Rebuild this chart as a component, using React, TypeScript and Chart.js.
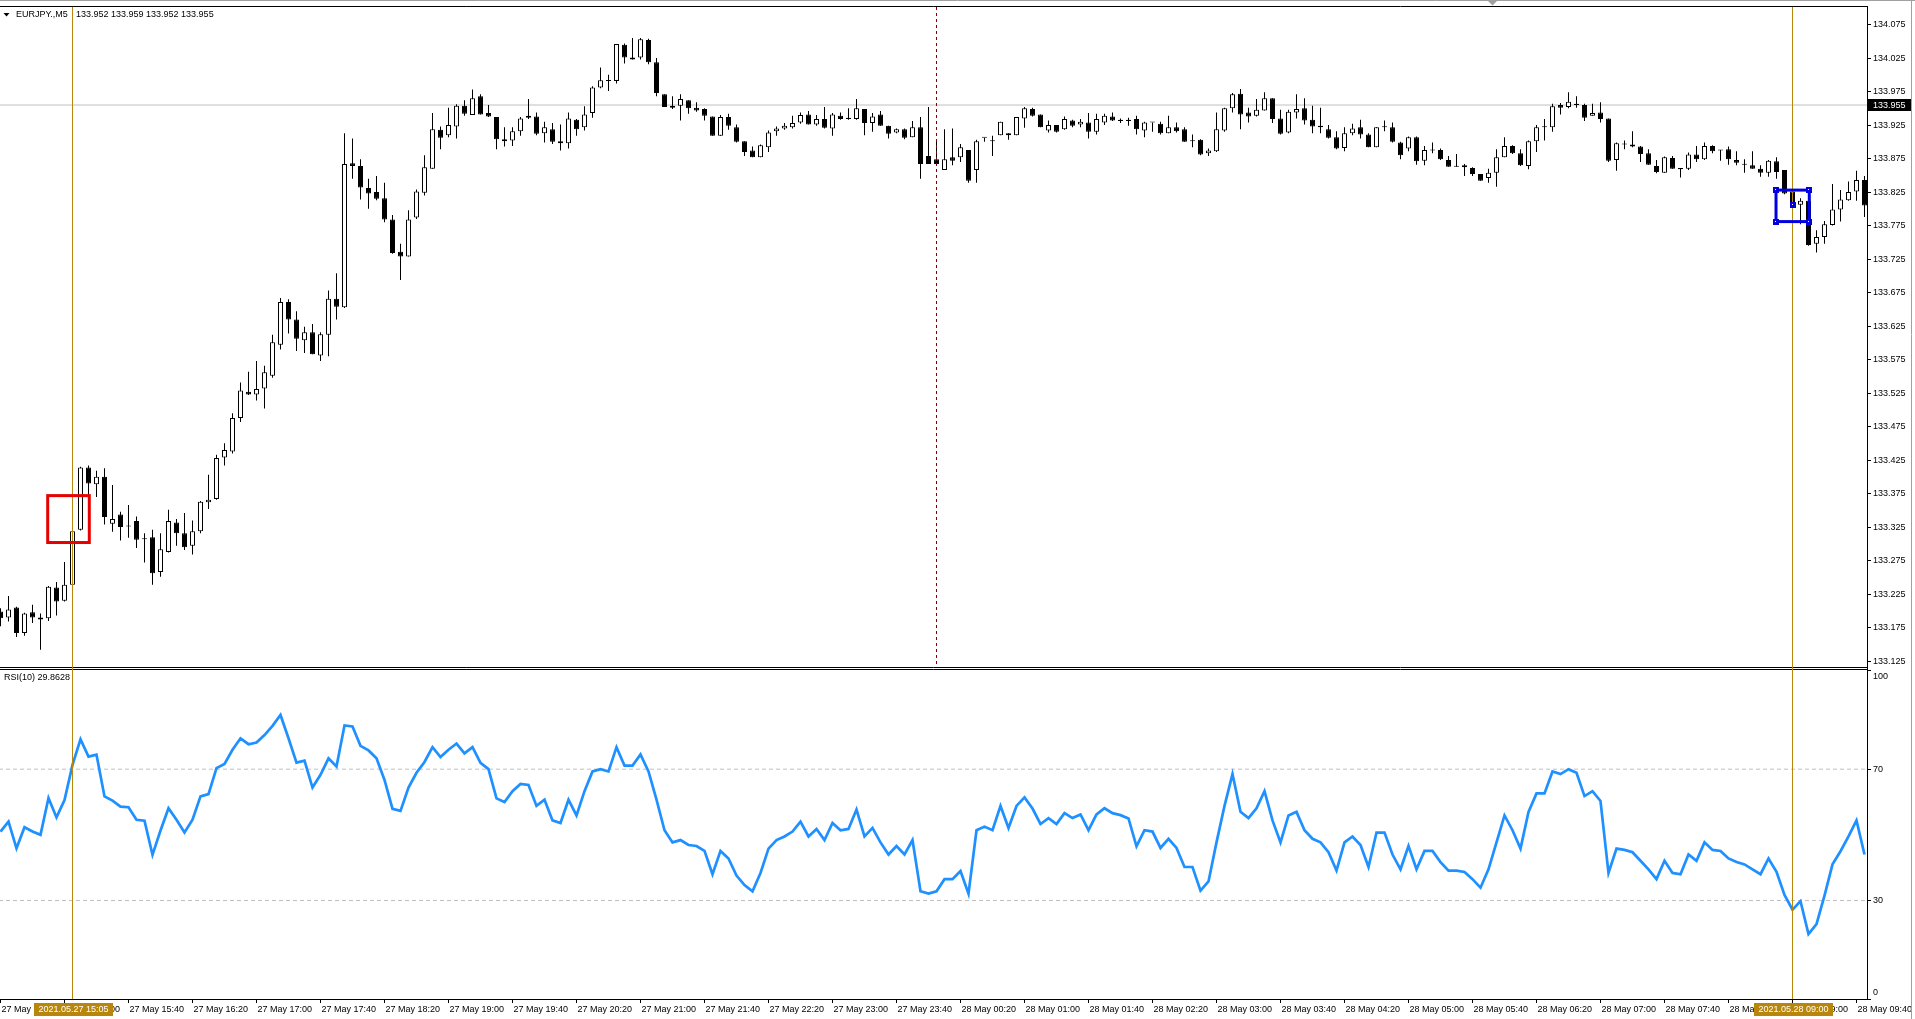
import React, { useEffect, useRef } from 'react';
import { Chart, registerables } from 'chart.js';

Chart.register(...registerables);

// ---------------- DATA (EURJPY., M5, 27 May 14:20 -> 28 May 09:45) ----------------
const OPEN = [
  133.199,133.190,133.205,133.167,133.198,133.190,133.189,133.235,133.215,133.239,
  133.321,133.414,133.389,133.400,133.330,133.344,133.327,133.334,133.308,133.310,
  133.258,133.288,133.332,133.316,133.297,133.319,133.362,133.367,133.429,133.438,
  133.488,133.527,133.523,133.532,133.551,133.597,133.661,133.635,133.604,133.616,
  133.581,133.612,133.666,133.653,133.868,133.864,133.831,133.825,133.816,133.784,
  133.736,133.729,133.787,133.824,133.860,133.918,133.910,133.923,133.954,133.940,
  133.968,133.943,133.937,133.904,133.902,133.916,133.939,133.938,133.913,133.919,
  133.901,133.898,133.933,133.922,133.943,133.981,133.991,133.991,134.045,134.023,
  134.026,134.052,134.019,133.971,133.954,133.954,133.962,133.951,133.949,133.938,
  133.909,133.937,133.922,133.901,133.887,133.877,133.892,133.916,133.920,133.922,
  133.929,133.941,133.926,133.934,133.920,133.939,133.936,133.934,133.949,133.928,
  133.941,133.924,133.914,133.919,133.907,133.922,133.879,133.874,133.858,133.877,
  133.877,133.888,133.858,133.906,133.901,133.910,133.913,133.910,133.935,133.949,
  133.941,133.917,133.925,133.919,133.932,133.926,133.929,133.915,133.929,133.938,
  133.933,133.933,133.934,133.917,133.929,133.927,133.913,133.922,133.919,133.901,
  133.903,133.883,133.886,133.917,133.950,133.972,133.944,133.939,133.947,133.965,
  133.935,133.914,133.944,133.950,133.933,133.924,133.919,133.907,133.891,133.913,
  133.922,133.911,133.892,133.922,133.922,133.899,133.890,133.907,133.872,133.888,
  133.888,133.873,133.864,133.865,133.861,133.852,133.846,133.854,133.877,133.894,
  133.883,133.864,133.901,133.922,133.922,133.955,133.952,133.957,133.955,133.939,
  133.944,133.935,133.873,133.897,133.896,133.893,133.883,133.864,133.854,133.876,
  133.861,133.860,133.881,133.874,133.894,133.888,133.889,133.873,133.867,133.865,
  133.860,133.854,133.871,133.858,133.826,133.806,133.812,133.748,133.758,133.776,
  133.799,133.813,133.826,133.843,
];

const HIGH = [
  133.204,133.222,133.206,133.197,133.209,133.196,133.237,133.243,133.273,133.320,
  133.415,133.417,133.409,133.413,133.388,133.348,133.358,133.341,133.316,133.321,
  133.316,133.351,133.337,133.346,133.335,133.364,133.403,133.433,133.450,133.495,
  133.541,133.557,133.573,133.566,133.612,133.667,133.665,133.647,133.624,133.628,
  133.616,133.678,133.704,133.913,133.905,133.874,133.845,133.849,133.839,133.791,
  133.748,133.798,133.829,133.880,133.943,133.923,133.951,133.956,133.962,133.978,
  133.971,133.955,133.937,133.922,133.922,133.937,133.964,133.944,133.930,133.928,
  133.926,133.944,133.934,133.953,133.983,134.011,134.000,134.046,134.047,134.055,
  134.055,134.054,134.025,133.971,133.968,133.971,133.962,133.959,133.950,133.938,
  133.940,133.942,133.926,133.901,133.893,133.896,133.917,133.923,133.928,133.939,
  133.944,133.946,133.940,133.952,133.943,133.944,133.950,133.964,133.949,133.943,
  133.946,133.924,133.920,133.920,133.931,133.937,133.952,133.903,133.919,133.920,
  133.897,133.888,133.903,133.906,133.909,133.930,133.913,133.937,133.952,133.951,
  133.941,133.932,133.925,133.938,133.933,133.934,133.943,133.942,133.942,133.944,
  133.935,133.936,133.939,133.930,133.929,133.930,133.939,133.929,133.922,133.911,
  133.904,133.890,133.944,133.951,133.973,133.979,133.951,133.964,133.974,133.965,
  133.948,133.948,133.971,133.965,133.954,133.951,133.925,133.916,133.922,133.927,
  133.933,133.913,133.922,133.932,133.929,133.900,133.908,133.908,133.894,133.899,
  133.890,133.879,133.882,133.867,133.862,133.852,133.860,133.889,133.907,133.895,
  133.889,133.902,133.925,133.934,133.957,133.958,133.974,133.968,133.957,133.957,
  133.959,133.935,133.899,133.902,133.916,133.894,133.889,133.873,133.878,133.879,
  133.861,133.884,133.894,133.899,133.895,133.888,133.893,133.886,133.874,133.886,
  133.865,133.873,133.877,133.858,133.827,133.816,133.813,133.768,133.782,133.837,
  133.828,133.841,133.857,133.849,
];

const LOW = [
  133.177,133.184,133.161,133.163,133.182,133.142,133.185,133.193,133.214,133.237,
  133.320,133.373,133.370,133.329,133.318,133.305,133.309,133.294,133.272,133.239,
  133.251,133.287,133.297,133.291,133.284,133.316,133.352,133.366,133.417,133.435,
  133.482,133.522,133.514,133.502,133.548,133.590,133.614,133.588,133.585,133.583,
  133.573,133.580,133.635,133.652,133.845,133.814,133.800,133.813,133.780,133.733,
  133.694,133.729,133.785,133.820,133.860,133.889,133.907,133.905,133.939,133.940,
  133.941,133.937,133.889,133.893,133.894,133.909,133.934,133.910,133.899,133.897,
  133.887,133.890,133.909,133.917,133.936,133.980,133.976,133.987,134.017,134.023,
  134.023,134.016,133.968,133.952,133.949,133.932,133.942,133.945,133.932,133.909,
  133.909,133.918,133.899,133.879,133.877,133.877,133.885,133.909,133.918,133.920,
  133.927,133.926,133.924,133.920,133.909,133.933,133.933,133.933,133.910,133.915,
  133.924,133.905,133.913,133.904,133.907,133.845,133.867,133.865,133.858,133.865,
  133.870,133.839,133.839,133.900,133.879,133.910,133.903,133.910,133.921,133.938,
  133.922,133.914,133.914,133.918,133.922,133.922,133.905,133.911,133.925,133.931,
  133.928,133.924,133.911,133.907,133.915,133.911,133.913,133.914,133.900,133.892,
  133.880,133.879,133.885,133.915,133.944,133.919,133.929,133.938,133.947,133.928,
  133.911,133.913,133.935,133.926,133.913,133.913,133.905,133.889,133.886,133.910,
  133.905,133.892,133.892,133.916,133.899,133.874,133.886,133.866,133.865,133.883,
  133.873,133.863,133.863,133.849,133.849,133.842,133.839,133.833,133.877,133.882,
  133.864,133.859,133.885,133.902,133.915,133.941,133.950,133.951,133.931,133.939,
  133.929,133.870,133.857,133.889,133.892,133.870,133.866,133.853,133.854,133.860,
  133.847,133.858,133.870,133.873,133.883,133.872,133.866,133.865,133.854,133.860,
  133.848,133.848,133.845,133.822,133.806,133.777,133.745,133.735,133.748,133.775,
  133.781,133.812,133.812,133.788,
];

const CLOSE = [
  133.189,133.202,133.167,133.196,133.190,133.187,133.236,133.214,133.239,133.319,
  133.414,133.390,133.400,133.340,133.337,133.325,133.326,133.306,133.307,133.256,
  133.292,133.334,133.316,133.295,133.319,133.363,133.366,133.428,133.440,133.488,
  133.529,133.523,133.531,133.556,133.601,133.661,133.635,133.606,133.616,133.583,
  133.613,133.666,133.654,133.867,133.864,133.832,133.823,133.815,133.784,133.734,
  133.729,133.784,133.826,133.862,133.919,133.906,133.925,133.954,133.942,133.965,
  133.941,133.938,133.904,133.901,133.916,133.935,133.936,133.912,133.922,133.900,
  133.898,133.935,133.919,133.941,133.981,133.992,133.991,134.046,134.026,134.026,
  134.053,134.019,133.973,133.952,133.951,133.964,133.950,133.947,133.939,133.909,
  133.937,133.924,133.900,133.885,133.877,133.895,133.914,133.920,133.924,133.928,
  133.940,133.926,133.934,133.921,133.941,133.934,133.934,133.950,133.928,133.938,
  133.924,133.912,133.919,133.906,133.922,133.867,133.867,133.867,133.874,133.872,
  133.892,133.842,133.901,133.906,133.901,133.930,133.910,133.937,133.950,133.939,
  133.922,133.925,133.915,133.934,133.924,133.930,133.915,133.934,133.939,133.932,
  133.931,133.931,133.919,133.929,133.929,133.913,133.922,133.916,133.900,133.901,
  133.881,133.887,133.919,133.950,133.971,133.941,133.938,133.948,133.965,133.934,
  133.912,133.945,133.949,133.932,133.923,133.922,133.906,133.890,133.913,133.920,
  133.911,133.892,133.922,133.922,133.900,133.880,133.907,133.871,133.888,133.887,
  133.874,133.863,133.863,133.862,133.852,133.842,133.854,133.877,133.894,133.883,
  133.865,133.901,133.922,133.922,133.953,133.951,133.960,133.955,133.936,133.943,
  133.934,133.872,133.898,133.896,133.893,133.882,133.866,133.855,133.877,133.860,
  133.859,133.881,133.874,133.894,133.886,133.887,133.874,133.869,133.866,133.860,
  133.854,133.872,133.855,133.823,133.808,133.812,133.746,133.758,133.777,133.799,
  133.814,133.825,133.843,133.805,
];

const RSI = [
  51.0,54.0,45.9,52.3,51.0,50.0,61.2,55.3,60.6,71.3,
  79.1,73.8,74.4,61.7,60.4,58.6,58.4,54.6,54.3,43.9,
  51.3,58.1,54.6,50.7,54.6,61.7,62.4,70.3,71.6,75.9,
  79.4,77.6,78.1,80.4,83.2,86.5,79.4,72.0,72.6,64.4,
  68.3,73.3,70.8,83.3,83.0,77.1,75.7,73.3,66.7,57.9,
  57.3,64.4,68.9,72.2,76.7,73.7,75.9,77.8,74.8,76.7,
  71.9,70.0,61.1,60.0,63.3,65.5,65.2,58.8,60.7,54.4,
  53.6,60.7,55.9,63.3,69.3,70.0,69.3,76.7,71.1,71.1,
  74.5,69.3,60.7,51.4,47.7,48.4,46.9,46.6,45.1,38.0,
  45.1,42.8,37.6,34.7,32.8,38.4,45.8,48.4,49.5,51.0,
  54.0,49.5,51.8,48.4,53.6,51.4,51.8,57.7,49.5,52.1,
  47.7,44.0,46.6,44.0,48.4,32.8,32.1,32.8,36.5,36.5,
  39.0,32.1,51.4,52.5,51.4,58.8,52.1,58.8,61.4,58.0,
  53.3,55.1,53.3,56.6,55.1,56.2,51.4,56.2,58.1,56.6,
  56.0,55.0,46.5,51.4,51.0,46.0,48.8,46.0,40.2,40.2,
  33.0,35.8,47.7,58.8,68.5,57.0,55.1,58.1,63.3,54.4,
  47.7,55.9,57.0,51.4,48.8,47.7,44.7,39.1,47.7,49.5,
  46.9,40.2,50.7,50.7,44.0,39.5,46.6,39.5,45.1,45.1,
  41.7,39.1,39.1,38.7,36.5,33.9,39.5,47.7,55.9,51.4,
  45.8,57.0,62.6,62.6,69.3,68.5,70.0,68.9,61.8,63.3,
  60.3,38.4,45.8,45.4,44.7,42.1,39.5,36.5,42.1,38.4,
  38.0,44.0,42.1,47.7,45.4,45.1,42.8,41.7,41.0,39.5,
  38.0,42.8,38.7,31.7,27.2,29.8,19.8,22.8,31.5,41.0,
  45.0,49.5,54.4,44.0,
];

// time-axis labels, one every 8 bars (40 minutes) starting at bar 0
const TIME_LABELS = [
  '27 May 14:20','27 May 15:00','27 May 15:40','27 May 16:20','27 May 17:00','27 May 17:40',
  '27 May 18:20','27 May 19:00','27 May 19:40','27 May 20:20','27 May 21:00','27 May 21:40',
  '27 May 22:20','27 May 23:00','27 May 23:40','28 May 00:20','28 May 01:00','28 May 01:40',
  '28 May 02:20','28 May 03:00','28 May 03:40','28 May 04:20','28 May 05:00','28 May 05:40',
  '28 May 06:20','28 May 07:00','28 May 07:40','28 May 08:20','28 May 09:00','28 May 09:40',
];
const TIME_TICK_BARS = [
  0,8,16,24,32,40,48,56,64,72,80,88,96,104,112,120,128,136,144,152,160,168,176,184,192,200,208,216,224,232,
];
const PRICE_TICKS = [
  134.075,134.025,133.975,133.925,133.875,133.825,133.775,133.725,133.675,133.625,
  133.575,133.525,133.475,133.425,133.375,133.325,133.275,133.225,133.175,133.125,
];
const RSI_TICKS = [0, 30, 70, 100];
const RSI_LEVELS = [30, 70];
const BID = 133.955;
const SYMBOL = 'EURJPY.,M5';
const HEADER_OHLC = '133.952 133.959 133.952 133.955';
const RSI_LABEL = 'RSI(10) 29.8628';
const MARKED_BARS = [9, 224];
const MARKED_TIMES = ['2021.05.27 15:05', '2021.05.28 09:00'];
const SEPARATOR_BAR = 117;
const RED_BOX = { x0: 5.9, x1: 11.1, top: 133.372, bottom: 133.302 };
const BLUE_BOX = { x0: 221.94, x1: 226.1, top: 133.828, bottom: 133.781, cx: 224, cy: 133.806 };

const X_MIN = -0.0625;
const X_MAX = 233.3125;
const P_MAX = 134.1013;
const P_MIN = 133.1162;
const R_MIN = 0;
const R_MAX = 100.2;

const FONT_FAMILY = '"Liberation Sans", Arial, sans-serif';
const FONT = { family: FONT_FAMILY, size: 9 };
const GOLD = '#b8860b';
const AXIS_RIGHT = 1867;

export default function App() {
  const mainRef = useRef<HTMLCanvasElement | null>(null);
  const rsiRef = useRef<HTMLCanvasElement | null>(null);

  useEffect(() => {
    document.body.style.margin = '0';
    document.body.style.overflow = 'hidden';
    if (!mainRef.current || !rsiRef.current) return;

    const bars = CLOSE.map((_, i) => i);
    const wickData = bars.map((i) => ({ x: i, y: [LOW[i], HIGH[i]] }));
    const bodyData = bars.map((i) => ({ x: i, y: [OPEN[i], CLOSE[i]] }));
    const bodyColors = bars.map((i) => (CLOSE[i] >= OPEN[i] ? '#ffffff' : '#000000'));

    const mainPlugin = {
      id: 'mt4main',
      afterDraw(chart: any) {
        const { ctx, chartArea: a, scales } = chart;
        const xs = scales.x;
        const ys = scales.y;
        ctx.save();
        // window frame
        ctx.strokeStyle = '#a0a0a0';
        ctx.lineWidth = 1;
        ctx.beginPath();
        ctx.moveTo(0, 0.5); ctx.lineTo(1915, 0.5);
        ctx.moveTo(1911.5, 0); ctx.lineTo(1911.5, 669);
        ctx.stroke();
        // panel frame
        ctx.strokeStyle = '#000';
        ctx.beginPath();
        ctx.moveTo(0, 6.5); ctx.lineTo(AXIS_RIGHT + 0.5, 6.5);
        ctx.moveTo(0, a.bottom + 0.5); ctx.lineTo(AXIS_RIGHT + 0.5, a.bottom + 0.5);
        ctx.moveTo(AXIS_RIGHT + 0.5, 6); ctx.lineTo(AXIS_RIGHT + 0.5, 669);
        ctx.stroke();
        // period separator (dotted dark red)
        const sx = Math.floor(xs.getPixelForValue(SEPARATOR_BAR)) + 0.5;
        ctx.strokeStyle = 'rgb(128,0,0)';
        ctx.setLineDash([3, 3]);
        ctx.beginPath(); ctx.moveTo(sx, a.top); ctx.lineTo(sx, a.bottom); ctx.stroke();
        ctx.setLineDash([]);
        // gold vertical lines
        ctx.strokeStyle = GOLD;
        MARKED_BARS.forEach((b) => {
          const gx = Math.floor(xs.getPixelForValue(b)) + 0.5;
          ctx.beginPath(); ctx.moveTo(gx, 7); ctx.lineTo(gx, 669); ctx.stroke();
        });
        // red rectangle
        ctx.strokeStyle = 'rgb(230,0,0)';
        ctx.lineWidth = 3;
        const rx0 = xs.getPixelForValue(RED_BOX.x0), rx1 = xs.getPixelForValue(RED_BOX.x1);
        const ry0 = ys.getPixelForValue(RED_BOX.top), ry1 = ys.getPixelForValue(RED_BOX.bottom);
        ctx.strokeRect(rx0, ry0, rx1 - rx0, ry1 - ry0);
        // blue rectangle with handles
        ctx.strokeStyle = 'rgb(0,0,225)';
        const bx0 = xs.getPixelForValue(BLUE_BOX.x0), bx1 = xs.getPixelForValue(BLUE_BOX.x1);
        const by0 = ys.getPixelForValue(BLUE_BOX.top), by1 = ys.getPixelForValue(BLUE_BOX.bottom);
        ctx.strokeRect(bx0, by0, bx1 - bx0, by1 - by0);
        const handles = [
          [bx0, by0], [bx1, by0], [bx0, by1], [bx1, by1],
          [xs.getPixelForValue(BLUE_BOX.cx), ys.getPixelForValue(BLUE_BOX.cy)],
        ];
        handles.forEach(([hx, hy]) => {
          ctx.fillStyle = 'rgb(0,0,225)';
          ctx.fillRect(Math.round(hx) - 3, Math.round(hy) - 3, 6, 6);
          ctx.fillStyle = '#fff';
          ctx.fillRect(Math.round(hx) - 1, Math.round(hy) - 1, 1, 1);
        });
        // bid label
        const bidY = ys.getPixelForValue(BID);
        ctx.fillStyle = '#000';
        ctx.fillRect(AXIS_RIGHT + 1, Math.round(bidY) - 6, 43, 12);
        ctx.fillStyle = '#fff';
        ctx.font = `9px ${FONT_FAMILY}`;
        ctx.textBaseline = 'middle';
        ctx.textAlign = 'left';
        ctx.fillText(BID.toFixed(3), AXIS_RIGHT + 6, Math.round(bidY) + 0.5);
        // header
        ctx.fillStyle = '#000';
        ctx.beginPath();
        ctx.moveTo(3.5, 13); ctx.lineTo(9.5, 13); ctx.lineTo(6.5, 16.5); ctx.closePath();
        ctx.fill();
        ctx.fillText(SYMBOL, 16, 15);
        ctx.fillText(HEADER_OHLC, 76, 15);
        // chart shift marker
        ctx.fillStyle = '#a0a0a0';
        ctx.beginPath();
        ctx.moveTo(1488, 1); ctx.lineTo(1497, 1); ctx.lineTo(1492.5, 5.5); ctx.closePath();
        ctx.fill();
        ctx.restore();
      },
    };

    const rsiPlugin = {
      id: 'mt4rsi',
      afterDraw(chart: any) {
        const { ctx, chartArea: a, scales } = chart;
        const xs = scales.x;
        const ys = scales.y;
        ctx.save();
        ctx.strokeStyle = '#a0a0a0';
        ctx.lineWidth = 1;
        ctx.beginPath(); ctx.moveTo(1911.5, 0); ctx.lineTo(1911.5, 350); ctx.stroke();
        ctx.strokeStyle = '#000';
        ctx.beginPath();
        ctx.moveTo(0, 0.5); ctx.lineTo(AXIS_RIGHT + 0.5, 0.5);
        ctx.moveTo(AXIS_RIGHT + 0.5, 0); ctx.lineTo(AXIS_RIGHT + 0.5, a.bottom);
        ctx.stroke();
        ctx.strokeStyle = GOLD;
        MARKED_BARS.forEach((b) => {
          const gx = Math.floor(xs.getPixelForValue(b)) + 0.5;
          ctx.beginPath(); ctx.moveTo(gx, 0); ctx.lineTo(gx, a.bottom); ctx.stroke();
        });
        ctx.font = `9px ${FONT_FAMILY}`;
        ctx.textBaseline = 'middle';
        ctx.textAlign = 'left';
        ctx.fillStyle = '#000';
        ctx.fillText(RSI_LABEL, 4, 9);
        ctx.fillText('100', AXIS_RIGHT + 6, Math.round(ys.getPixelForValue(100)) + 6);
        ctx.fillText('0', AXIS_RIGHT + 6, Math.round(ys.getPixelForValue(0)) - 6);
        // highlighted time boxes on the time axis
        MARKED_BARS.forEach((b, k) => {
          const px = xs.getPixelForValue(b);
          ctx.fillStyle = GOLD;
          ctx.fillRect(Math.round(px) - 39, a.bottom + 4, 79, 13);
          ctx.fillStyle = '#fff';
          ctx.textAlign = 'center';
          ctx.fillText(MARKED_TIMES[k], Math.round(px) + 0.5, a.bottom + 10.5);
        });
        ctx.restore();
      },
    };

    const mainChart = new Chart(mainRef.current, {
      type: 'bar',
      data: {
        datasets: [
          {
            type: 'bar',
            data: bodyData as any,
            backgroundColor: bodyColors,
            borderColor: '#000',
            borderWidth: 1,
            borderSkipped: false,
            barThickness: 5,
            minBarLength: 1,
            grouped: false,
            inflateAmount: 0,
            order: 1,
          } as any,
          {
            type: 'bar',
            data: wickData as any,
            backgroundColor: '#000',
            borderWidth: 0,
            barThickness: 1,
            minBarLength: 1,
            grouped: false,
            inflateAmount: 0,
            order: 2,
          } as any,
          {
            type: 'line',
            data: [{ x: X_MIN - 1, y: BID }, { x: X_MAX + 1, y: BID }],
            borderColor: '#c0c0c0',
            borderWidth: 1,
            pointRadius: 0,
            order: 3,
          } as any,
        ],
      },
      options: {
        animation: false,
        responsive: false,
        devicePixelRatio: 1,
        events: [],
        layout: { padding: { top: 7, bottom: 2, left: 0, right: 0 } },
        plugins: { legend: { display: false }, tooltip: { enabled: false } },
        scales: {
          x: { type: 'linear', min: X_MIN, max: X_MAX, display: false, offset: false },
          y: {
            type: 'linear',
            position: 'right',
            min: P_MIN,
            max: P_MAX,
            afterBuildTicks: (s: any) => { s.ticks = PRICE_TICKS.map((v) => ({ value: v })); },
            afterFit: (s: any) => { s.width = 48; s.paddingTop = 0; s.paddingBottom = 0; },
            grid: { drawOnChartArea: false, drawTicks: true, tickLength: 4, tickColor: '#000' },
            border: { display: true, color: '#000', width: 1 },
            ticks: {
              autoSkip: false, padding: 2, color: '#000', font: FONT,
              callback: (v: any) => Number(v).toFixed(3),
            },
          },
        },
      } as any,
      plugins: [mainPlugin],
    });

    const rsiChart = new Chart(rsiRef.current, {
      type: 'line',
      data: {
        datasets: [
          {
            data: RSI.map((v, i) => ({ x: i, y: v })),
            borderColor: 'rgb(30,144,255)',
            borderWidth: 2.7,
            pointRadius: 0,
            tension: 0,
            order: 1,
          },
          ...RSI_LEVELS.map((l) => ({
            data: [{ x: X_MIN - 1, y: l }, { x: X_MAX + 1, y: l }],
            borderColor: '#c0c0c0',
            borderWidth: 1,
            borderDash: [4, 3],
            pointRadius: 0,
            order: 2,
          })),
        ] as any,
      },
      options: {
        animation: false,
        responsive: false,
        devicePixelRatio: 1,
        events: [],
        layout: { padding: { top: 1, bottom: 0, left: 0, right: 0 } },
        plugins: { legend: { display: false }, tooltip: { enabled: false } },
        scales: {
          x: {
            type: 'linear',
            position: 'bottom',
            min: X_MIN,
            max: X_MAX,
            offset: false,
            afterBuildTicks: (s: any) => { s.ticks = TIME_TICK_BARS.map((v) => ({ value: v })); },
            afterFit: (s: any) => { s.height = 20; s.paddingLeft = 0; s.paddingRight = 0; },
            grid: { drawOnChartArea: false, drawTicks: true, tickLength: 4, tickColor: '#000' },
            border: { display: true, color: '#000', width: 1 },
            ticks: {
              autoSkip: false, maxRotation: 0, minRotation: 0, align: 'start',
              padding: 1, labelOffset: 1, color: '#000', font: FONT,
              callback: (v: any) => TIME_LABELS[TIME_TICK_BARS.indexOf(Number(v))] ?? '',
            },
          },
          y: {
            type: 'linear',
            position: 'right',
            min: R_MIN,
            max: R_MAX,
            afterBuildTicks: (s: any) => { s.ticks = RSI_TICKS.map((v) => ({ value: v })); },
            afterFit: (s: any) => { s.width = 48; s.paddingTop = 0; s.paddingBottom = 0; },
            grid: { drawOnChartArea: false, drawTicks: true, tickLength: 4, tickColor: '#000' },
            border: { display: true, color: '#000', width: 1 },
            ticks: {
              autoSkip: false, padding: 2, color: '#000', font: FONT,
              callback: (v: any) => (v === 30 || v === 70 ? String(v) : ''),
            },
          },
        },
      } as any,
      plugins: [rsiPlugin],
    });

    return () => {
      mainChart.destroy();
      rsiChart.destroy();
    };
  }, []);

  return (
    <div style={{ position: 'relative', width: 1915, height: 1019, background: '#fff', overflow: 'hidden' }}>
      <canvas ref={mainRef} width={1915} height={669} style={{ position: 'absolute', left: 0, top: 0 }} />
      <canvas ref={rsiRef} width={1915} height={350} style={{ position: 'absolute', left: 0, top: 669 }} />
    </div>
  );
}
